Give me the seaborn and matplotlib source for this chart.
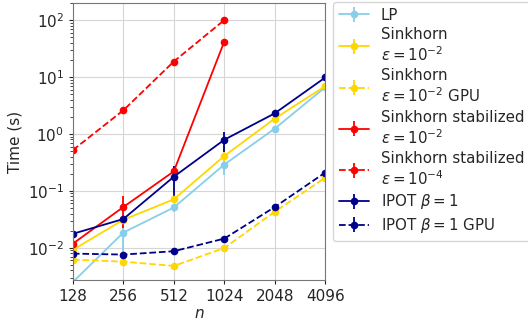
import matplotlib
matplotlib.use("Agg")
import matplotlib.pyplot as plt
import numpy as np
import seaborn as sns

n_values = [128, 256, 512, 1024, 2048, 4096]

lp_time = [0.0025, 0.0185, 0.051, 0.29, 1.24, 6.6]
lp_err = [0.0003, 0.011, 0.008, 0.1, 0.15, 0.4]

sinkhorn_time = [0.0092, 0.031, 0.071, 0.41, 1.86, 6.9]
sinkhorn_err = [0.0005, 0.006, 0.008, 0.15, 0.15, 0.3]

sinkhorn_gpu_time = [0.0062, 0.0057, 0.0048, 0.0099, 0.043, 0.17]
sinkhorn_gpu_err = [0.0004, 0.0005, 0.0003, 0.0008, 0.005, 0.015]

stab2_time = [0.0118, 0.052, 0.22, 42.0]
stab2_err = [0.001, 0.03, 0.05, 3.0]

stab4_time = [0.52, 2.6, 18.7, 100.0]
stab4_err = [0.03, 0.3, 1.5, 5.0]

ipot_time = [0.0176, 0.032, 0.177, 0.79, 2.3, 9.8]
ipot_err = [0.001, 0.002, 0.095, 0.3, 0.15, 0.4]

ipot_gpu_time = [0.0079, 0.0076, 0.0087, 0.0145, 0.052, 0.21]
ipot_gpu_err = [0.0003, 0.0004, 0.0004, 0.0008, 0.003, 0.01]

series = [
    ("LP", lp_time, lp_err, "skyblue", "-"),
    ("Sinkhorn\n$\\varepsilon=10^{-2}$", sinkhorn_time, sinkhorn_err, "gold", "-"),
    ("Sinkhorn\n$\\varepsilon=10^{-2}$ GPU", sinkhorn_gpu_time, sinkhorn_gpu_err, "gold", "--"),
    ("Sinkhorn stabilized\n$\\varepsilon=10^{-2}$", stab2_time, stab2_err, "red", "-"),
    ("Sinkhorn stabilized\n$\\varepsilon=10^{-4}$", stab4_time, stab4_err, "red", "--"),
    ("IPOT $\\beta=1$", ipot_time, ipot_err, "darkblue", "-"),
    ("IPOT $\\beta=1$ GPU", ipot_gpu_time, ipot_gpu_err, "darkblue", "--"),
]

sns.set_style("ticks", {"axes.grid": True, "grid.color": "#d6d6d6",
                        "axes.edgecolor": "#777777"})
plt.rcParams["font.family"] = ["DejaVu Sans"]

fig, ax = plt.subplots(figsize=(5.28, 3.25), dpi=100)
fig.subplots_adjust(left=0.138, right=0.616, top=0.991, bottom=0.138)

for label, t, err, color, ls in series:
    x = n_values[:len(t)]
    ax.errorbar(x, t, yerr=err, color=color, linestyle=ls, marker="o",
                markersize=4.5, linewidth=1.3, elinewidth=1.3, capsize=0,
                label=label)

ax.set_xscale("log", base=2)
ax.set_yscale("log")
ax.set_xlim(128, 4096)
ax.set_ylim(0.0027, 200)
ax.set_xticks(n_values)
ax.set_xticklabels([str(v) for v in n_values])
ax.minorticks_off()
ax.yaxis.set_minor_locator(matplotlib.ticker.LogLocator(base=10, subs=np.arange(2, 10)))
ax.yaxis.set_minor_formatter(matplotlib.ticker.NullFormatter())
ax.tick_params(axis="both", labelsize=11, colors="#262626", length=3)
ax.tick_params(axis="y", which="minor", length=2)
ax.set_xlabel("$n$", fontsize=11, labelpad=1)
ax.set_ylabel("Time (s)", fontsize=11)

ax.legend(loc="upper left", bbox_to_anchor=(1.03, 1.005), fontsize=10.8,
          frameon=True, handlelength=2.0, borderaxespad=0, labelspacing=0.3)

fig.savefig("out.png", dpi=100)
